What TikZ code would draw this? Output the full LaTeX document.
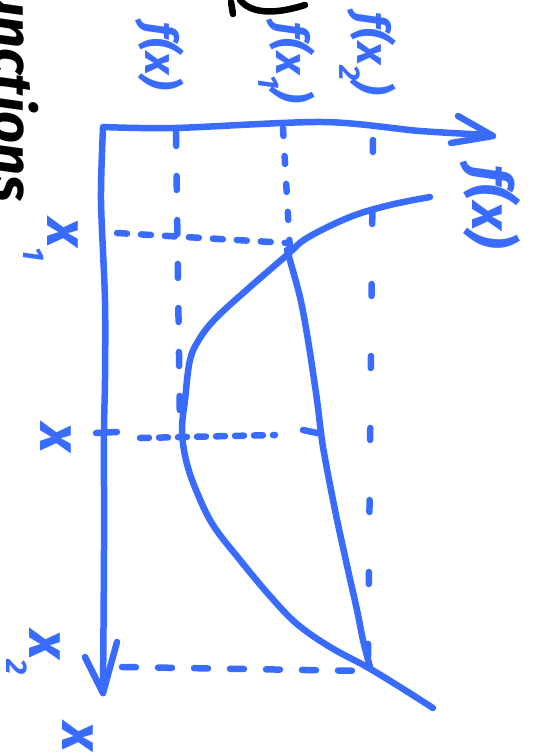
\documentclass[tikz,border=0pt]{standalone}
\usepackage{fontspec}
\newfontfamily\hand{Fira Sans}
\definecolor{hb}{RGB}{57,107,255}
\newcommand{\subnum}[1]{\raisebox{-0.4em}{\fontsize{30}{30}\selectfont #1}}
\begin{document}
\begin{tikzpicture}[x=1pt,y=-1pt, line cap=round, line join=round,
  pen/.style={draw=hb, line width=6.5pt},
  ink/.style={draw=black, line width=6.5pt},
  lbl/.style={text=hb, rotate=-90, inner sep=0pt, font=\fontsize{45}{45}\selectfont\hand\bfseries\itshape},
  bigl/.style={lbl, font=\fontsize{56}{56}\selectfont\hand\bfseries\itshape},
  xl/.style={lbl, anchor=base west, font=\fontsize{58}{58}\selectfont\hand\bfseries\itshape}]
\useasboundingbox (0,0) rectangle (545,756);
% axes
\draw[pen] plot[smooth] coordinates {(103,127) (175,128) (323,122) (420,131) (491,135)};
\draw[pen] (458,116) -- (493,136) -- (451,143);
\draw[pen] plot[smooth] coordinates {(103,128) (101,200) (105,300) (105,380) (104,432) (104,550) (103,693)};
\draw[pen] (85,657) -- (103,693) -- (117,642);
\draw[pen] (96,433) -- (117,432);
% dashed guide lines
\draw[pen, dash pattern=on 10pt off 14pt] (117,233) -- (288,243);
\draw[pen, dash pattern=on 14pt off 30pt] (176,132) -- (180,428);
\draw[pen, dash pattern=on 8pt off 20pt] (283,128) -- (290,250);
\draw[pen, dash pattern=on 12pt off 60pt] (373,140) -- (368,665);
\draw[pen, dash pattern=on 9pt off 10pt] (140,438) -- (275,435);
\draw[pen] (303,430) -- (317,433);
\draw[pen, dash pattern=on 14pt off 22pt] (122,667) -- (367,671);
% curve and chord
\draw[pen] plot[smooth, tension=0.6] coordinates {(430,197) (390,205) (350,217) (307,238) (287,255) (250,287) (217,317) (200,338) (190,360) (185,400) (182,430) (186,460) (196,490) (213,525) (240,560) (270,596) (297,624) (330,647) (367,667) (400,687) (433,708)};
\draw[pen] plot[smooth] coordinates {(287,250) (300,297) (308,340) (317,400) (323,447) (335,510) (348,570) (357,610) (363,640) (370,667)};
% labels
\node[lbl] (fa) at (160,56) {f(x)};
\node[lbl] (fb) at (287,63) {f(x\subnum{1})};
\node[lbl, anchor=east] (fc) at (368,95) {f(x\subnum{2})};
\node[bigl] (fr) at (490,207) {f(x)};
\node[xl] (x1) at (47,218) {x\subnum{1}};
\node[xl] (xm) at (40,423) {x};
\node[xl] (x2) at (30,630) {x\subnum{2}};
\node[xl] (xb) at (63,722) {x};
% black handwriting
\node[rotate=-90, inner sep=0pt, font=\fontsize{56}{56}\selectfont\hand\bfseries\itshape] (fn) at (10,84) {functions};
\draw[ink] (233,14) -- (231,2);
\draw[ink] (240,0) .. controls (250,12) and (270,16) .. (305,5);
\end{tikzpicture}
\end{document}
